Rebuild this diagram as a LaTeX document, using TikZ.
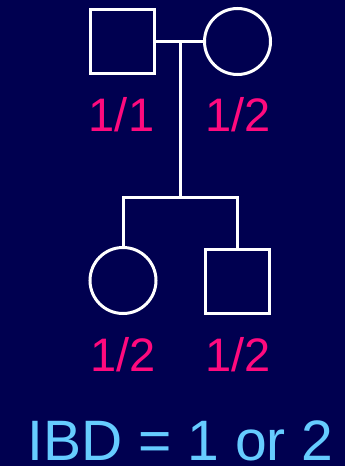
\documentclass[tikz,border=0pt]{standalone}
\usepackage{fontspec}
\setmainfont{Liberation Sans}
\usepackage{xcolor}
\definecolor{pednavy}{HTML}{000050}
\definecolor{pedpink}{HTML}{FF0A7E}
\definecolor{pedsky}{HTML}{66CCFF}
\usetikzlibrary{positioning}
\tikzset{
  male/.style  ={rectangle, draw=white, line width=3pt, minimum size=64pt, inner sep=0pt},
  female/.style={circle, draw=white, line width=3pt, minimum size=66pt, inner sep=0pt},
  pline/.style ={draw=white, line width=3pt},
  geno/.style  ={text=pedpink, font=\fontsize{47}{50}\selectfont, anchor=base, inner sep=0pt},
  ibd/.style   ={text=pedsky, font=\fontsize{57}{60}\selectfont, anchor=base, inner sep=0pt},
}

\begin{document}
\begin{tikzpicture}[x=1pt, y=-1pt]
  \fill[pednavy] (0,0) rectangle (345,466);
  \useasboundingbox (0,0) rectangle (345,466);
  % parents
  \node[male]   (father) at (122.5,41.5) {};
  \node[female] (mother) at (237.5,41.5) {};
  \coordinate (mate) at (180,41.5);
  \coordinate (sibc) at (180,197);
  % children
  \node[female] (daughter) at (123,280.5) {};
  \node[male]   (son)      at (237.5,281.5) {};
  \coordinate (sibl) at (daughter.north |- sibc);
  \coordinate (sibr) at (son.north |- sibc);
  % lines
  \draw[pline] (father) -- (mother);
  \draw[pline] (mate) -- (sibc);
  \draw[pline, line cap=rect] (sibl) -- (sibr);
  \draw[pline] (sibl) -- (daughter.north);
  \draw[pline] (sibr) -- (son.north);
  % genotypes
  \node[geno] (gf) at (121.5,131.5) {1/1};
  \node[geno] (gm) at (238,131.5) {1/2};
  \node[geno] (gd) at (123,371.5) {1/2};
  \node[geno] (gs) at (238,371.5) {1/2};
  \node[ibd]  (res) at (180.5,460.5) {IBD = 1 or 2};
\end{tikzpicture}
\end{document}
